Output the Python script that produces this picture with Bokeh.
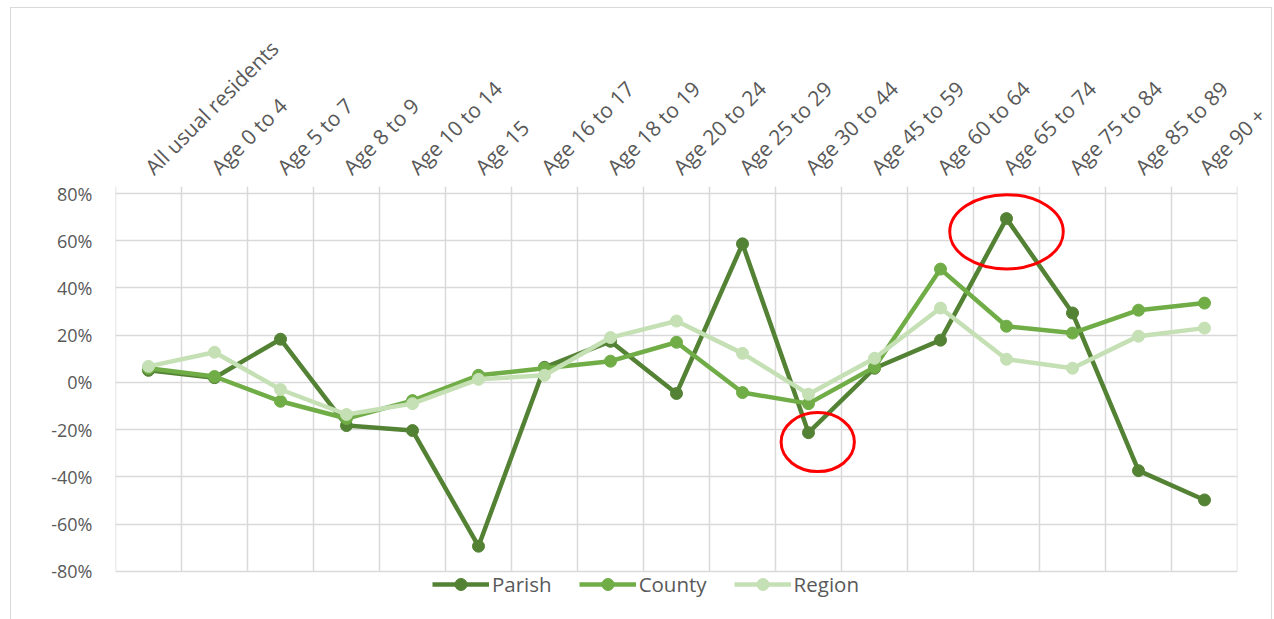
from bokeh.plotting import figure
from bokeh.models import (FixedTicker, NumeralTickFormatter, Range1d, Legend, LegendItem)
from bokeh.embed import file_html
from bokeh.resources import INLINE

categories = ["All usual residents", "Age 0 to 4", "Age 5 to 7", "Age 8 to 9",
              "Age 10 to 14", "Age 15", "Age 16 to 17", "Age 18 to 19",
              "Age 20 to 24", "Age 25 to 29", "Age 30 to 44", "Age 45 to 59",
              "Age 60 to 64", "Age 65 to 74", "Age 75 to 84", "Age 85 to 89",
              "Age 90 +"]
parish = [0.051, 0.02, 0.183, -0.183, -0.204, -0.694, 0.064, 0.174, -0.047,
          0.587, -0.213, 0.06, 0.179, 0.694, 0.294, -0.374, -0.498]
county = [0.06, 0.025, -0.08, -0.153, -0.077, 0.03, 0.06, 0.09, 0.17,
          -0.043, -0.09, 0.064, 0.48, 0.238, 0.209, 0.306, 0.336]
region = [0.068, 0.128, -0.03, -0.136, -0.09, 0.013, 0.03, 0.19, 0.26,
          0.123, -0.05, 0.102, 0.315, 0.098, 0.06, 0.196, 0.23]
y_ticks = [-0.8, -0.6, -0.4, -0.2, 0.0, 0.2, 0.4, 0.6, 0.8]
highlighted = ["Age 65 to 74", "Age 30 to 44"]

# styling for the highlight ellipses (offsets/sizes relative to highlighted point)
hl_style = {
    "Age 65 to 74": dict(dx=0.0, dy=-0.056, w=1.72, h=0.315),
    "Age 30 to 44": dict(dx=0.14, dy=-0.04, w=1.11, h=0.25),
}

series = [("Parish", parish, "#548235"),
          ("County", county, "#70AD47"),
          ("Region", region, "#C5E0B4")]

x = list(range(len(categories)))
n = len(categories)
GRID_TOP = 0.83      # tick marks poke above the 80% line
Y_BOTTOM = -1.013    # extra room below -80% for the legend

p = figure(width=1262, height=613, output_backend="svg", toolbar_location=None,
           x_axis_location="above",
           x_range=Range1d(-0.5, n - 0.5), y_range=Range1d(Y_BOTTOM, GRID_TOP),
           min_border_left=104, min_border_right=36, min_border_top=178,
           min_border_bottom=0)
p.outline_line_color = None
p.background_fill_color = "white"
p.border_fill_color = "white"
p.styles = {"border": "1px solid #d9d9d9", "margin-left": "10px", "margin-top": "7px"}

TEXT = "#595959"
FONT = "Open Sans"
GRID = "#d9d9d9"

xa = p.xaxis[0]
xa.ticker = FixedTicker(ticks=x)
xa.major_label_overrides = {i: c for i, c in enumerate(categories)}
xa.major_label_orientation = 0.785398
xa.major_label_text_font = FONT
xa.major_label_text_font_size = "21px"
xa.major_label_text_color = TEXT
xa.major_label_standoff = 10
xa.axis_line_color = None
xa.major_tick_line_color = None
xa.minor_tick_line_color = None

ya = p.yaxis[0]
ya.ticker = FixedTicker(ticks=y_ticks)
ya.formatter = NumeralTickFormatter(format="0%")
ya.major_label_text_font = FONT
ya.major_label_text_font_size = "18px"
ya.major_label_text_color = TEXT
ya.major_label_standoff = 17
ya.axis_line_color = None
ya.major_tick_line_color = None
ya.minor_tick_line_color = None

p.xgrid.grid_line_color = None
p.ygrid.ticker = FixedTicker(ticks=y_ticks)
p.ygrid.grid_line_color = GRID
p.ygrid.grid_line_width = 1.5

# vertical category-boundary lines (with tick marks above the top gridline)
bounds = [i - 0.5 for i in range(n + 1)]
p.segment(x0=bounds, y0=[y_ticks[0]] * len(bounds), x1=bounds, y1=[GRID_TOP] * len(bounds),
          line_color=GRID, line_width=1.5)

items = []
for name, vals, col in series:
    l = p.line(x, vals, line_width=4.5, color=col)
    s = p.scatter(x, vals, size=12, color=col)
    items.append(LegendItem(label=name, renderers=[l, s]))

for cat in highlighted:
    i = categories.index(cat)
    st = hl_style[cat]
    p.ellipse(x=[i + st["dx"]], y=[parish[i] + st["dy"]], width=st["w"], height=st["h"],
              fill_color=None, line_color="#FF0000", line_width=3)

legend = Legend(items=items, orientation="horizontal", location=(317, 22))
legend.border_line_color = None
legend.background_fill_color = None
legend.background_fill_alpha = 0
legend.label_text_font = FONT
legend.label_text_font_size = "20.5px"
legend.label_text_color = TEXT
legend.glyph_width = 57
legend.glyph_height = 30
legend.label_standoff = 3
legend.spacing = 27
legend.margin = 0
legend.padding = 0
p.add_layout(legend, "center")

open("out.html", "w").write(file_html(p, INLINE))
